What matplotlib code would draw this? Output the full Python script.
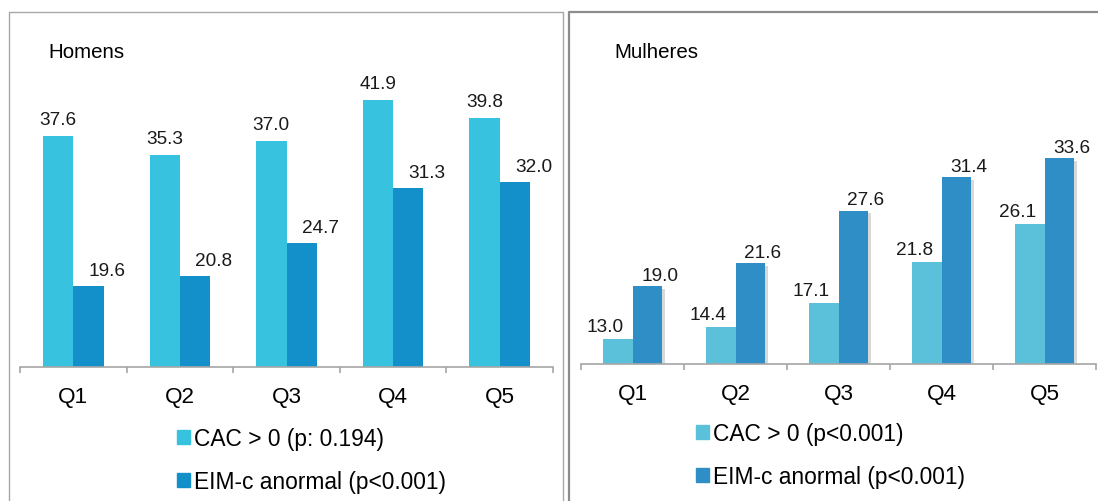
import numpy as np
import matplotlib
matplotlib.use('Agg')
import matplotlib.pyplot as plt
from matplotlib.lines import Line2D
from matplotlib.patches import Patch
import matplotlib.patheffects as pe

plt.rcParams['font.family'] = ['Liberation Sans', 'DejaVu Sans']

quintis = ['Q1', 'Q2', 'Q3', 'Q4', 'Q5']
homens_cac = [37.6, 35.3, 37.0, 41.9, 39.8]
homens_eim = [19.6, 20.8, 24.7, 31.3, 32.0]
mulheres_cac = [13.0, 14.4, 17.1, 21.8, 26.1]
mulheres_eim = [19.0, 21.6, 27.6, 31.4, 33.6]

W, H = 1098, 502
fig = plt.figure(figsize=(W / 100, H / 100), dpi=100)


def px_box(x0, x1, y_bottom, y_top):
    return [x0 / W, 1 - y_bottom / H, (x1 - x0) / W, (y_bottom - y_top) / H]


def frame_line(xs, ys, color, lw):
    fig.add_artist(Line2D([x / W for x in xs], [1 - y / H for y in ys],
                          transform=fig.transFigure, color=color, lw=lw))


def draw_panel(box, ylim, cac, eim, colors, title, title_x, labels, leg_xy,
               offsets, shadow=False):
    ax = fig.add_axes(box)
    x = np.arange(len(quintis))
    w = 0.285
    effects = [pe.SimplePatchShadow(offset=(2.5, -2), alpha=0.3, shadow_rgbFace='#808080'),
               pe.Normal()] if shadow else None
    b1 = ax.bar(x - w / 2, cac, w, color=colors[0], zorder=2)
    b2 = ax.bar(x + w / 2, eim, w, color=colors[1], zorder=2)
    if shadow:
        for bar in list(b1) + list(b2):
            bar.set_path_effects(effects)
    ax.set_xlim(-0.5, len(quintis) - 0.5)
    ax.set_ylim(*ylim)

    (dx1, dy1), (dx2, dy2) = offsets
    for i in range(len(quintis)):
        ax.annotate(f'{cac[i]:.1f}', (x[i] - w / 2, cac[i]), xytext=(dx1, dy1),
                    textcoords='offset points', ha='center', va='baseline',
                    fontsize=13.7, color='#1a1a1a')
        ax.annotate(f'{eim[i]:.1f}', (x[i] + w / 2, eim[i]), xytext=(dx2, dy2),
                    textcoords='offset points', ha='center', va='baseline',
                    fontsize=13.7, color='#1a1a1a')

    for s in ['top', 'right', 'left']:
        ax.spines[s].set_visible(False)
    ax.spines['bottom'].set_color('#A6A6A6')
    ax.spines['bottom'].set_linewidth(1.2)
    ax.set_yticks([])
    ax.set_xticks(np.arange(-0.5, len(quintis)))
    ax.set_xticklabels([])
    ax.tick_params(axis='x', which='major', length=4, width=1.2, color='#A6A6A6')
    ax.set_xticks(x, minor=True)
    ax.set_xticklabels(quintis, minor=True, fontsize=16.2)
    ax.tick_params(axis='x', which='minor', length=0, pad=14)

    fig.text(title_x / W, 1 - 52 / H, title, fontsize=14.8, va='center', ha='left')

    handles = [Patch(color=colors[0], label=labels[0]),
               Patch(color=colors[1], label=labels[1])]
    fig.legend(handles=handles, loc='upper left',
               bbox_to_anchor=(leg_xy[0] / W, 1 - leg_xy[1] / H),
               frameon=False, fontsize=16.4, handlelength=0.56, handleheight=0.56,
               handletextpad=0.2, labelspacing=0.88, borderpad=0, borderaxespad=0)
    return ax


draw_panel(px_box(20, 553, 368, 35), (9.85, 9.85 + 333 / 8.33),
           homens_cac, homens_eim, ('#37C3DF', '#1390C9'), 'Homens', 48,
           ['CAC > 0 (p: 0.194)', 'EIM-c anormal (p<0.001)'], (177, 428),
           [(0, 8.6), (13.5, 8)])

draw_panel(px_box(581, 1096, 365, 35), (10.16, 10.16 + 330 / 8.79),
           mulheres_cac, mulheres_eim, ('#5BC0DA', '#2F8EC6'), 'Mulheres', 614,
           ['CAC > 0 (p<0.001)', 'EIM-c anormal (p<0.001)'], (696, 423),
           [(-9, 5.5), (9, 4.5)], shadow=True)

frame_line([9, 9, 563, 563], [H + 5, 13, 13, H + 5], '#A8A8A8', 1.0)
frame_line([569, 569, W + 5], [H + 5, 13, 13], '#8C8C8C', 1.6)

fig.savefig('out.png', dpi=100)
